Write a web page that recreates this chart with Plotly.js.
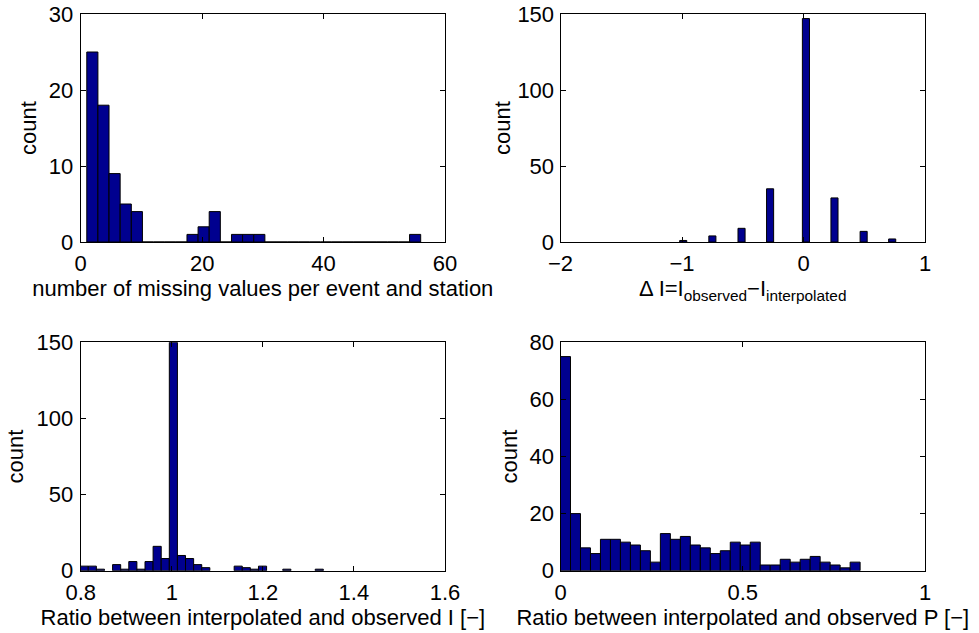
<!DOCTYPE html>
<html>
<head>
<meta charset="utf-8">
<script src="https://cdn.plot.ly/plotly-3.0.1.min.js"></script>
<style>html,body{margin:0;padding:0;background:#fff;}#chart{width:979px;height:633px;}</style>
</head>
<body>
<div id="chart"></div>
<script>
// ---- Data (bin centres and counts) ----
// Panel 1: number of missing values per event and station
const missingX = [1.92, 3.75, 5.58, 7.42, 9.25, 11.08, 12.92, 14.75, 16.58, 18.42,
                  20.25, 22.08, 23.92, 25.75, 27.58, 29.42, 31.25, 33.08, 34.92, 36.75,
                  38.58, 40.42, 42.25, 44.08, 45.92, 47.75, 49.58, 51.42, 53.25, 55.08];
const missingCount = [25, 18, 9, 5, 4, 0, 0, 0, 0, 1,
                      2, 4, 0, 1, 1, 1, 0, 0, 0, 0,
                      0, 0, 0, 0, 0, 0, 0, 0, 0, 1];

// Panel 2: ΔI = I_observed − I_interpolated
const deltaX = [-0.99, -0.75, -0.51, -0.275, 0.02, 0.255, 0.495, 0.73];
const deltaCount = [1, 4, 9, 35, 147, 29, 7, 2];

// Panel 3: ratio between interpolated and observed I
const ratioIX = [0.8077, 0.8255, 0.8433, 0.8789, 0.8967, 0.9145, 0.9323, 0.9501,
                 0.9679, 0.9857, 1.0035, 1.0213, 1.0391, 1.0569, 1.0747,
                 1.1459, 1.1637, 1.1815, 1.1993, 1.2527, 1.3239];
const ratioICount = [3, 3, 1, 4, 1, 6, 1, 6,
                     16, 8, 150, 10, 8, 4, 2,
                     3, 2, 1, 3, 1, 1];

// Panel 4: ratio between interpolated and observed P
const ratioPX = [0.0137, 0.0411, 0.0685, 0.0959, 0.1233, 0.1507, 0.1781, 0.2055, 0.2329, 0.2603,
                 0.2877, 0.3151, 0.3425, 0.3699, 0.3973, 0.4247, 0.4521, 0.4795, 0.5069, 0.5343,
                 0.5617, 0.5891, 0.6165, 0.6439, 0.6713, 0.6987, 0.7261, 0.7535, 0.7809, 0.8083];
const ratioPCount = [75, 20, 8, 6, 11, 11, 10, 9, 7, 3,
                     13, 11, 12, 9, 8, 6, 7, 10, 9, 10,
                     2, 2, 4, 3, 4, 5, 3, 2, 1, 3];

// Bin widths of each histogram
const missingBin = 1.8333;
const deltaBin = 0.0583;
const ratioIBin = 0.0178;
const ratioPBin = 0.0274;

// Tick values and axis titles
const xTicks1 = [0, 20, 40, 60],   yTicks1 = [0, 10, 20, 30];
const xTicks2 = [-2, -1, 0, 1],    yTicks2 = [0, 50, 100, 150];
const xTicks3 = [0.8, 1, 1.2, 1.4, 1.6], yTicks3 = [0, 50, 100, 150];
const xTicks4 = [0, 0.5, 1],       yTicks4 = [0, 20, 40, 60, 80];
const xTitle1 = 'number of missing values per event and station';
const xTitle2 = '\u0394 I=I<sub>observed</sub>\u2212I<sub>interpolated</sub>';
const xTitle3 = 'Ratio between interpolated and observed I [\u2212]';
const xTitle4 = 'Ratio between interpolated and observed P [\u2212]';
const yTitle = 'count';

// ---- Styling ----
const barColor = 'rgb(0,0,143)';
const FONT = 'Liberation Sans, Arial, Helvetica, sans-serif';
const tickFont = {family: FONT, size: 22, color: '#000'};
const titleFont = {family: FONT, size: 22, color: '#000'};

function mkBar(x, y, w, xa, ya) {
  return {
    type: 'bar', x: x, y: y, width: x.map(() => w),
    xaxis: xa, yaxis: ya,
    marker: {color: barColor, line: {color: '#000', width: 1}},
    hoverinfo: 'x+y', showlegend: false
  };
}

function axis(range, ticks, domain, anchor, title, standoff, labelOff) {
  return {
    range: range, domain: domain, anchor: anchor,
    tickmode: 'array', tickvals: ticks,
    ticks: 'inside', ticklen: 5, tickwidth: 1, tickcolor: '#000',
    showline: true, linecolor: '#000', linewidth: 1, mirror: 'ticks',
    showgrid: false, zeroline: false,
    tickfont: tickFont, ticklabelstandoff: labelOff,
    title: {text: title, font: titleFont, standoff: standoff},
    automargin: false, fixedrange: true
  };
}

const W = 979, H = 633;
const colL = [80.7 / W, 445 / W];
const colR = [560.5 / W, 925 / W];
const rowT = [1 - 242 / H, 1 - 14 / H];
const rowB = [1 - 570.7 / H, 1 - 342.3 / H];

const data = [
  mkBar(missingX, missingCount, missingBin, 'x', 'y'),
  mkBar(deltaX, deltaCount, deltaBin, 'x2', 'y2'),
  mkBar(ratioIX, ratioICount, ratioIBin, 'x3', 'y3'),
  mkBar(ratioPX, ratioPCount, ratioPBin, 'x4', 'y4')
];

const layout = {
  width: W, height: H,
  margin: {l: 0, r: 0, t: 0, b: 0},
  paper_bgcolor: '#fff', plot_bgcolor: '#fff',
  font: {family: FONT, color: '#000'},
  xaxis:  axis([0, 60], xTicks1, colL, 'y', xTitle1, 5, 2),
  yaxis:  axis([0, 30], yTicks1, rowT, 'x', yTitle, 6, 2),
  xaxis2: axis([-2, 1], xTicks2, colR, 'y2', xTitle2, 1, 2),
  yaxis2: axis([0, 150], yTicks2, rowT, 'x2', yTitle, 0, 1),
  xaxis3: axis([0.8, 1.6], xTicks3, colL, 'y3', xTitle3, 0, 2),
  yaxis3: axis([0, 150], yTicks3, rowB, 'x3', yTitle, 6, 2),
  xaxis4: axis([0, 1], xTicks4, colR, 'y4', xTitle4, 0, 2),
  yaxis4: axis([0, 80], yTicks4, rowB, 'x4', yTitle, 5, 1)
};

Plotly.newPlot('chart', data, layout, {displayModeBar: false, staticPlot: true});
</script>
</body>
</html>
